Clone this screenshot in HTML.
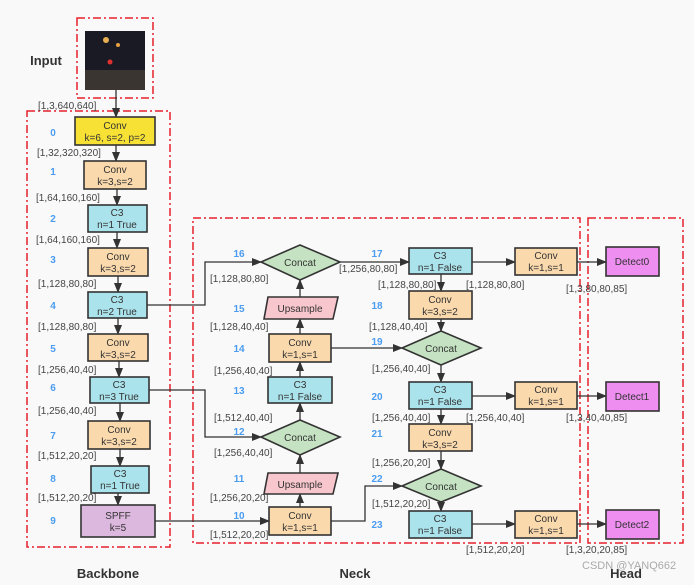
<!DOCTYPE html>
<html><head><meta charset="utf-8"><style>
body{margin:0;background:#f9f9f9}
svg{display:block}
text{font-family:"Liberation Sans","DejaVu Sans",sans-serif}
.b{stroke:#333;stroke-width:1.6}
.t{font-size:10px;fill:#333;text-anchor:middle}
.d{font-size:10px;fill:#444}
.n{font-size:10px;fill:#4a9cf0;font-weight:bold;text-anchor:middle}
.l{stroke:#333;stroke-width:1.3;fill:none}
.r{stroke:#e8202a;stroke-width:1.5;fill:none;stroke-dasharray:8,3,2,3}
</style></head><body>
<svg width="694" height="585" viewBox="0 0 694 585">
<defs><marker id="a" markerWidth="10" markerHeight="8" refX="9" refY="4" orient="auto" markerUnits="userSpaceOnUse"><path d="M0,0 L10,4 L0,8z" fill="#333"/></marker></defs>
<rect class="r" x="77" y="18" width="76" height="80"/>
<rect class="r" x="27" y="111" width="143" height="436"/>
<rect class="r" x="193" y="218" width="387" height="325"/>
<rect class="r" x="588" y="218" width="95" height="325"/>
<rect x="85" y="31" width="60" height="59" fill="#1a1a24"/>
<rect x="85" y="70" width="60" height="20" fill="#3a3530"/>
<circle cx="106" cy="40" r="3" fill="#e8b050"/><circle cx="118" cy="45" r="2" fill="#e8a040"/><circle cx="110" cy="62" r="2.5" fill="#e03030"/>
<text x="46" y="65" style="font-size:13px;font-weight:bold;fill:#333" text-anchor="middle">Input</text>
<text x="108" y="578" style="font-size:13px;font-weight:bold;fill:#333" text-anchor="middle">Backbone</text>
<text x="355" y="578" style="font-size:13px;font-weight:bold;fill:#333" text-anchor="middle">Neck</text>
<text x="626" y="578" style="font-size:13px;font-weight:bold;fill:#333" text-anchor="middle">Head</text>
<text x="582" y="569" style="font-size:11px;fill:#aaa">CSDN @YANQ662</text>
<!-- backbone arrows -->
<g class="l">
<line x1="116" y1="90" x2="116" y2="117" marker-end="url(#a)"/>
<line x1="116" y1="145" x2="116" y2="161" marker-end="url(#a)"/>
<line x1="117" y1="189" x2="117" y2="205" marker-end="url(#a)"/>
<line x1="117" y1="232" x2="117" y2="248" marker-end="url(#a)"/>
<line x1="118" y1="276" x2="118" y2="292" marker-end="url(#a)"/>
<line x1="118" y1="318" x2="118" y2="334" marker-end="url(#a)"/>
<line x1="119" y1="361" x2="119" y2="377" marker-end="url(#a)"/>
<line x1="120" y1="403" x2="120" y2="421" marker-end="url(#a)"/>
<line x1="120" y1="449" x2="120" y2="466" marker-end="url(#a)"/>
<line x1="118" y1="493" x2="118" y2="505" marker-end="url(#a)"/>
<polyline points="147,305 205,305 205,262 261,262" marker-end="url(#a)"/>
<polyline points="149,390 205,390 205,437 261,437" marker-end="url(#a)"/>
<line x1="155" y1="521" x2="269" y2="521" marker-end="url(#a)"/>
<line x1="300" y1="507" x2="300" y2="494" marker-end="url(#a)"/>
<line x1="300" y1="473" x2="300" y2="455" marker-end="url(#a)"/>
<line x1="300" y1="420" x2="300" y2="403" marker-end="url(#a)"/>
<line x1="300" y1="377" x2="300" y2="362" marker-end="url(#a)"/>
<line x1="300" y1="334" x2="300" y2="319" marker-end="url(#a)"/>
<line x1="300" y1="297" x2="300" y2="280" marker-end="url(#a)"/>
<line x1="340" y1="262" x2="409" y2="262" marker-end="url(#a)"/>
<line x1="331" y1="348" x2="402" y2="348" marker-end="url(#a)"/>
<polyline points="331,521 365,521 365,486 402,486" marker-end="url(#a)"/>
<line x1="441" y1="274" x2="441" y2="291" marker-end="url(#a)"/>
<line x1="441" y1="319" x2="441" y2="331" marker-end="url(#a)"/>
<line x1="441" y1="365" x2="441" y2="382" marker-end="url(#a)"/>
<line x1="441" y1="409" x2="441" y2="424" marker-end="url(#a)"/>
<line x1="441" y1="451" x2="441" y2="469" marker-end="url(#a)"/>
<line x1="441" y1="502" x2="441" y2="511" marker-end="url(#a)"/>
<line x1="472" y1="262" x2="515" y2="262" marker-end="url(#a)"/>
<line x1="472" y1="396" x2="515" y2="396" marker-end="url(#a)"/>
<line x1="472" y1="524" x2="515" y2="524" marker-end="url(#a)"/>
<line x1="577" y1="262" x2="606" y2="262" marker-end="url(#a)"/>
<line x1="577" y1="396" x2="606" y2="396" marker-end="url(#a)"/>
<line x1="577" y1="524" x2="606" y2="524" marker-end="url(#a)"/>
</g>
<!-- backbone boxes -->
<rect class="b" x="75" y="117" width="80" height="28" fill="#f7e135"/>
<text class="t" x="115" y="129">Conv</text><text class="t" x="115" y="141">k=6, s=2, p=2</text>
<rect class="b" x="84" y="161" width="62" height="28" fill="#fad9ad"/>
<text class="t" x="115" y="173">Conv</text><text class="t" x="115" y="185">k=3,s=2</text>
<rect class="b" x="88" y="205" width="59" height="27" fill="#abe3ec"/>
<text class="t" x="117" y="216">C3</text><text class="t" x="117" y="228">n=1 True</text>
<rect class="b" x="88" y="248" width="60" height="28" fill="#fad9ad"/>
<text class="t" x="118" y="260">Conv</text><text class="t" x="118" y="272">k=3,s=2</text>
<rect class="b" x="88" y="292" width="59" height="26" fill="#abe3ec"/>
<text class="t" x="117" y="303">C3</text><text class="t" x="117" y="315">n=2 True</text>
<rect class="b" x="88" y="334" width="60" height="27" fill="#fad9ad"/>
<text class="t" x="118" y="346">Conv</text><text class="t" x="118" y="358">k=3,s=2</text>
<rect class="b" x="90" y="377" width="59" height="26" fill="#abe3ec"/>
<text class="t" x="119" y="388">C3</text><text class="t" x="119" y="400">n=3 True</text>
<rect class="b" x="88" y="421" width="62" height="28" fill="#fad9ad"/>
<text class="t" x="119" y="433">Conv</text><text class="t" x="119" y="445">k=3,s=2</text>
<rect class="b" x="91" y="466" width="58" height="27" fill="#abe3ec"/>
<text class="t" x="120" y="477">C3</text><text class="t" x="120" y="489">n=1 True</text>
<rect class="b" x="81" y="505" width="74" height="32" fill="#dcb8df"/>
<text class="t" x="118" y="519">SPFF</text><text class="t" x="118" y="531">k=5</text>
<g class="n"><text x="53" y="136">0</text><text x="53" y="175">1</text><text x="53" y="222">2</text><text x="53" y="263">3</text><text x="53" y="309">4</text><text x="53" y="352">5</text><text x="53" y="391">6</text><text x="53" y="439">7</text><text x="53" y="482">8</text><text x="53" y="524">9</text>
<text x="239" y="257">16</text><text x="239" y="312">15</text><text x="239" y="352">14</text><text x="239" y="394">13</text><text x="239" y="435">12</text><text x="239" y="482">11</text><text x="239" y="519">10</text>
<text x="377" y="257">17</text><text x="377" y="309">18</text><text x="377" y="345">19</text><text x="377" y="400">20</text><text x="377" y="437">21</text><text x="377" y="482">22</text><text x="377" y="528">23</text></g>
<g class="d">
<text x="38" y="109">[1,3,640,640]</text><text x="37" y="156">[1,32,320,320]</text><text x="36" y="201">[1,64,160,160]</text><text x="36" y="243">[1,64,160,160]</text><text x="38" y="287">[1,128,80,80]</text><text x="38" y="330">[1,128,80,80]</text><text x="38" y="373">[1,256,40,40]</text><text x="38" y="414">[1,256,40,40]</text><text x="38" y="459">[1,512,20,20]</text><text x="38" y="501">[1,512,20,20]</text>
<text x="210" y="282">[1,128,80,80]</text><text x="210" y="330">[1,128,40,40]</text><text x="214" y="374">[1,256,40,40]</text><text x="214" y="421">[1,512,40,40]</text><text x="214" y="456">[1,256,40,40]</text><text x="210" y="501">[1,256,20,20]</text><text x="210" y="538">[1,512,20,20]</text>
<text x="339" y="272">[1,256,80,80]</text><text x="378" y="288">[1,128,80,80]</text><text x="369" y="330">[1,128,40,40]</text><text x="372" y="372">[1,256,40,40]</text><text x="372" y="421">[1,256,40,40]</text><text x="372" y="466">[1,256,20,20]</text><text x="372" y="507">[1,512,20,20]</text>
<text x="466" y="288">[1,128,80,80]</text><text x="466" y="421">[1,256,40,40]</text><text x="466" y="553">[1,512,20,20]</text>
<text x="566" y="292">[1,3,80,80,85]</text><text x="566" y="421">[1,3,40,40,85]</text><text x="566" y="553">[1,3,20,20,85]</text>
</g>
<!-- neck shapes -->
<g class="b" fill="#c5e3c2">
<polygon points="261,262 300,245 340,262 300,280"/>
<polygon points="261,437 300,420 340,437 300,455"/>
<polygon points="402,348 441,331 481,348 441,365"/>
<polygon points="402,486 441,469 481,486 441,502"/>
</g>
<g class="t"><text x="300" y="266">Concat</text><text x="300" y="441">Concat</text><text x="441" y="352">Concat</text><text x="441" y="490">Concat</text></g>
<polygon class="b" fill="#f8c7cd" points="268,297 338,297 333,319 264,319"/>
<polygon class="b" fill="#f8c7cd" points="268,473 338,473 333,494 264,494"/>
<text class="t" x="300" y="312">Upsample</text><text class="t" x="300" y="488">Upsample</text>
<rect class="b" x="269" y="334" width="62" height="28" fill="#fad9ad"/><text class="t" x="300" y="346">Conv</text><text class="t" x="300" y="358">k=1,s=1</text>
<rect class="b" x="268" y="377" width="64" height="26" fill="#abe3ec"/><text class="t" x="300" y="388">C3</text><text class="t" x="300" y="400">n=1 False</text>
<rect class="b" x="269" y="507" width="62" height="28" fill="#fad9ad"/><text class="t" x="300" y="519">Conv</text><text class="t" x="300" y="531">k=1,s=1</text>
<rect class="b" x="409" y="248" width="63" height="26" fill="#abe3ec"/><text class="t" x="440" y="259">C3</text><text class="t" x="440" y="271">n=1 False</text>
<rect class="b" x="409" y="291" width="63" height="28" fill="#fad9ad"/><text class="t" x="440" y="303">Conv</text><text class="t" x="440" y="315">k=3,s=2</text>
<rect class="b" x="409" y="382" width="63" height="27" fill="#abe3ec"/><text class="t" x="440" y="393">C3</text><text class="t" x="440" y="405">n=1 False</text>
<rect class="b" x="409" y="424" width="63" height="27" fill="#fad9ad"/><text class="t" x="440" y="436">Conv</text><text class="t" x="440" y="448">k=3,s=2</text>
<rect class="b" x="409" y="511" width="63" height="27" fill="#abe3ec"/><text class="t" x="440" y="522">C3</text><text class="t" x="440" y="534">n=1 False</text>
<rect class="b" x="515" y="248" width="62" height="27" fill="#fad9ad"/><text class="t" x="546" y="259">Conv</text><text class="t" x="546" y="271">k=1,s=1</text>
<rect class="b" x="515" y="382" width="62" height="27" fill="#fad9ad"/><text class="t" x="546" y="393">Conv</text><text class="t" x="546" y="405">k=1,s=1</text>
<rect class="b" x="515" y="511" width="62" height="27" fill="#fad9ad"/><text class="t" x="546" y="522">Conv</text><text class="t" x="546" y="534">k=1,s=1</text>
<rect class="b" x="606" y="247" width="53" height="29" fill="#ee8ef0"/><text class="t" x="632" y="265">Detect0</text>
<rect class="b" x="606" y="382" width="53" height="29" fill="#ee8ef0"/><text class="t" x="632" y="400">Detect1</text>
<rect class="b" x="606" y="510" width="53" height="29" fill="#ee8ef0"/><text class="t" x="632" y="528">Detect2</text>
</svg>
</body></html>
